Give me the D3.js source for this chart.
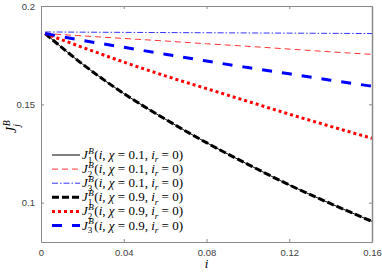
<!DOCTYPE html>
<html>
<head>
<meta charset="utf-8">
<script src="https://cdn.jsdelivr.net/npm/d3@7"></script>
<style>
  body { margin: 0; background: #fff; }
  .tick text { font-family: "Liberation Sans", Arial, sans-serif; font-size: 9.5px; fill: #404040; }
</style>
</head>
<body>
<div id="chart"></div>
<script>
// data
var iVals = [0.002, 0.02, 0.04, 0.06, 0.08, 0.10, 0.12, 0.14, 0.16];
var j1Chi01 = [0.186, 0.1705, 0.1555, 0.1425, 0.1305, 0.1195, 0.109, 0.0995, 0.0905];
var j2Chi01 = [0.186, 0.1848, 0.1835, 0.1822, 0.1808, 0.1795, 0.1781, 0.1767, 0.1754];
var j3Chi01 = [0.1868, 0.1867, 0.1866, 0.1865, 0.1864, 0.1863, 0.1862, 0.1861, 0.186];
var j1Chi09 = [0.186, 0.1705, 0.1555, 0.1425, 0.1305, 0.1195, 0.109, 0.0995, 0.0905];
var j2Chi09 = [0.186, 0.179, 0.1715, 0.1645, 0.158, 0.1515, 0.145, 0.1388, 0.1327];
var j3Chi09 = [0.186, 0.1825, 0.179, 0.1755, 0.172, 0.1687, 0.1655, 0.1623, 0.1592];
var xTicks = [0, 0.04, 0.08, 0.12, 0.16];
var yTicks = [0.1, 0.15, 0.2];
var legendIdx = ["1", "2", "3", "1", "2", "3"];
var legendChi = ["0.1", "0.1", "0.1", "0.9", "0.9", "0.9"];

function init() {
    var w = 382, h = 273;
    var left = 41, right = 372, top = 6, bottom = 242;

    var series = [
        { v: j1Chi01, color: "#000", width: 1, dash: null },
        { v: j2Chi01, color: "#ff0000", width: 0.8, dash: "6,4" },
        { v: j3Chi01, color: "#0000ff", width: 0.8, dash: "6,2,1.5,2" },
        { v: j1Chi09, color: "#000", width: 3, dash: "7,3" },
        { v: j2Chi09, color: "#ff0000", width: 3, dash: "3,3" },
        { v: j3Chi09, color: "#0000ff", width: 3, dash: "10,10" }
    ];

    var xScale = d3.scaleLinear().domain([0, 0.16]).range([left, right]);
    var yScale = d3.scaleLinear().domain([0.08, 0.2]).range([bottom, top]);

    var svg = d3.select("#chart").append("svg")
        .attr("width", w).attr("height", h);

    var line = d3.line()
        .x(function (d, k) { return xScale(iVals[k]); })
        .y(function (d) { return yScale(d); })
        .curve(d3.curveMonotoneX);

    svg.append("clipPath").attr("id", "clip")
        .append("rect").attr("x", left).attr("y", top)
        .attr("width", right - left).attr("height", bottom - top);

    svg.append("g").attr("clip-path", "url(#clip)")
        .selectAll("path").data(series).enter().append("path")
        .attr("d", function (s) { return line(s.v); })
        .attr("fill", "none")
        .attr("stroke", function (s) { return s.color; })
        .attr("stroke-width", function (s) { return s.width; })
        .attr("stroke-dasharray", function (s) { return s.dash; });

    // axes (MATLAB style box with inward ticks)
    var axColor = "#8a8a8a";
    var xAxis = d3.axisBottom(xScale).tickValues(xTicks).tickSizeInner(-3).tickSizeOuter(0)
        .tickPadding(7).tickFormat(function (d) { return d === 0 ? "0" : d3.format(".2f")(d); });
    var yAxis = d3.axisLeft(yScale).tickValues(yTicks).tickSizeInner(-3).tickSizeOuter(0)
        .tickPadding(6).tickFormat(function (d) { return String(d); });

    var gx = svg.append("g").attr("transform", "translate(0," + bottom + ")").call(xAxis);
    var gy = svg.append("g").attr("transform", "translate(" + left + ",0)").call(yAxis);
    var gxt = svg.append("g").attr("transform", "translate(0," + top + ")")
        .call(d3.axisTop(xScale).tickValues(xTicks).tickSizeInner(-3).tickSizeOuter(0).tickFormat(""));
    var gyr = svg.append("g").attr("transform", "translate(" + right + ",0)")
        .call(d3.axisRight(yScale).tickValues(yTicks).tickSizeInner(-3).tickSizeOuter(0).tickFormat(""));
    [gx, gy, gxt, gyr].forEach(function (g) {
        g.select(".domain").attr("stroke", axColor);
        g.selectAll(".tick line").attr("stroke", axColor);
    });
    gyr.select(".domain").attr("stroke-width", 1.5);

    var serif = "'Liberation Serif', 'DejaVu Serif', serif";

    function measure(str, size, italic) {
        var t = svg.append("text").attr("font-family", serif).attr("font-size", size)
            .attr("font-style", italic ? "italic" : "normal").text(str);
        var wd = t.node().getComputedTextLength();
        t.remove();
        return wd;
    }

    // one text element: J with stacked sub/sup, then optional rest
    function mathLabel(g, x, y, sub, chi, size) {
        var small = size * 0.7;
        var wB = measure("B", small, true);
        var wSub = measure(sub, small, sub === "j");
        var t = g.append("text").attr("x", x).attr("y", y)
            .attr("font-family", serif).attr("font-size", size);
        t.append("tspan").attr("font-style", "italic").text("J");
        t.append("tspan").attr("font-style", "italic").attr("font-size", small)
            .attr("dx", 0.5).attr("dy", -size * 0.42).text("B");
        t.append("tspan").attr("font-style", sub === "j" ? "italic" : "normal").attr("font-size", small)
            .attr("dx", -wB - 0.5).attr("dy", size * 0.72).text(sub);
        var back = Math.max(wB + 0.5 - wSub, 0) + 0.5;
        if (chi === null) return;
        t.append("tspan").attr("dx", back).attr("dy", -size * 0.3).text("(");
        t.append("tspan").attr("font-style", "italic").text("i");
        t.append("tspan").text(", ");
        t.append("tspan").attr("font-style", "italic").text("\u03C7");
        t.append("tspan").text(" = " + chi + ", ");
        t.append("tspan").attr("font-style", "italic").text("i");
        t.append("tspan").attr("font-style", "italic").attr("font-size", small)
            .attr("dy", size * 0.25).text("r");
        t.append("tspan").attr("dy", -size * 0.25).text(" = 0)");
    }

    // legend
    var lg = svg.append("g");
    series.forEach(function (s, k) {
        var ly = 155 + k * 14.1;
        lg.append("line").attr("x1", 52).attr("x2", 80).attr("y1", ly).attr("y2", ly)
            .attr("stroke", s.color).attr("stroke-width", s.width)
            .attr("stroke-dasharray", s.dash);
        mathLabel(lg, 82, ly + 4, legendIdx[k], legendChi[k], 13);
    });

    // axis labels
    svg.append("text").attr("x", (left + right) / 2).attr("y", 268)
        .attr("text-anchor", "middle").attr("font-family", serif)
        .attr("font-style", "italic").attr("font-size", 13).text("i");

    var yl = svg.append("g").attr("transform", "translate(16," + ((top + bottom) / 2 + 9) + ") rotate(-90)");
    mathLabel(yl, 0, 0, "j", null, 14);
}

window.onload = init;
</script>
</body>
</html>
